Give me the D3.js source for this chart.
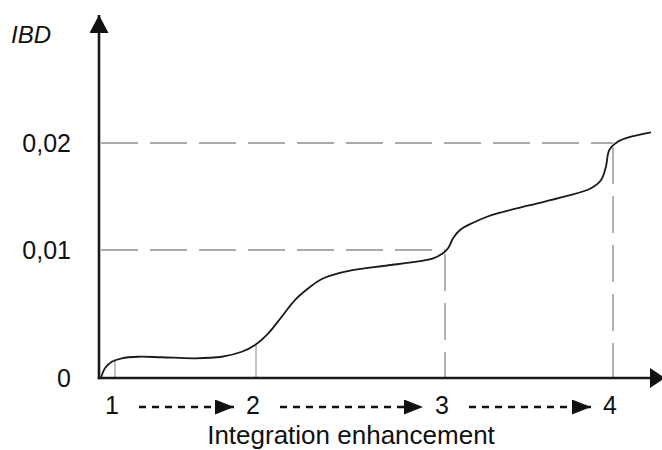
<!doctype html>
<html>
  <head>
    <meta charset="utf-8">
    <title>IBD vs integration enhancement</title>
    <script src="https://cdnjs.cloudflare.com/ajax/libs/d3/7.8.5/d3.min.js"></script>
    <style>
      body { margin: 0; background: #fff; }
      text { font-family: "Liberation Sans", Arial, sans-serif; fill: #111; }
    </style>
  </head>
  <body>
    <div id="chart"></div>

    <script>
      // integration level (x) and IBD value (y)
      const levels = [0.90, 0.93, 0.977, 1.048, 1.165, 1.331, 1.567, 1.757, 1.899, 1.993,
                      2.065, 2.136, 2.206, 2.277, 2.339, 2.407, 2.497, 2.672, 2.850, 2.937, 2.989,
                      3.018, 3.048, 3.089, 3.167, 3.250, 3.327, 3.512, 3.710, 3.869, 3.929,
                      3.958, 3.978, 4.028, 4.107, 4.226];
      const ibd = [0, 0.00078, 0.00127, 0.00154, 0.00166, 0.00162, 0.00154, 0.00166, 0.00205, 0.00258,
                   0.00349, 0.00479, 0.00609, 0.00701, 0.00766, 0.00805, 0.00838, 0.00875, 0.00909, 0.00935, 0.00974,
                   0.01016, 0.01109, 0.01187, 0.01255, 0.01311, 0.01349, 0.01421, 0.01498, 0.01577, 0.01654,
                   0.01779, 0.01935, 0.02012, 0.02059, 0.02100];

      // stage ticks on the x axis and the curve value where each drop line starts
      const stages = [1, 2, 3, 4];
      const stageValues = [0.0014, 0.0026, 0.01, 0.02];

      // y tick labels
      const yTicks = [0, 0.01, 0.02];
      const yTickLabels = ['0', '0,01', '0,02'];

      const width = 662, height = 450;

      // the drawing is schematic, so both scales are piecewise
      const x = d3.scaleLinear().domain(stages).range([115, 256, 445, 613]);
      const y = d3.scaleLinear().domain(yTicks).range([378, 250, 143]);
      const x0 = 99, y0 = y(0);

      const svg = d3.select('#chart')
        .append('svg')
        .attr('width', width)
        .attr('height', height);

      // arrow heads: id, length, breadth
      const heads = [['head', 19, 15], ['yhead', 18, 19], ['xhead', 15, 20]];
      svg.append('defs')
        .selectAll('marker')
        .data(heads)
        .join('marker')
        .attr('id', d => d[0])
        .attr('viewBox', d => `0 0 ${d[1]} ${d[2]}`)
        .attr('refX', d => d[1]).attr('refY', d => d[2] / 2)
        .attr('markerUnits', 'userSpaceOnUse')
        .attr('markerWidth', d => d[1]).attr('markerHeight', d => d[2])
        .attr('orient', 'auto')
        .append('path')
        .attr('d', d => `M0,0L${d[1]},${d[2] / 2}L0,${d[2]}Z`)
        .attr('fill', '#111');

      // dashed guides at stages 3 and 4
      const guideIdx = [2, 3];
      const guides = svg.append('g')
        .attr('stroke', '#aaa')
        .attr('stroke-width', 1.8)
        .attr('stroke-dasharray', '37,12')
        .attr('fill', 'none');
      guides.selectAll('.h')
        .data(guideIdx)
        .join('line')
        .attr('x1', x0 + 2)
        .attr('x2', i => x(stages[i]))
        .attr('y1', i => y(stageValues[i]))
        .attr('y2', i => y(stageValues[i]));
      guides.selectAll('.v')
        .data(guideIdx)
        .join('line')
        .attr('x1', i => x(stages[i]))
        .attr('x2', i => x(stages[i]))
        .attr('y1', i => y(stageValues[i]) + 4)
        .attr('y2', y0);

      // thin drop lines at stages 1 and 2
      svg.append('g')
        .selectAll('line')
        .data([0, 1])
        .join('line')
        .attr('x1', i => x(stages[i]))
        .attr('x2', i => x(stages[i]))
        .attr('y1', i => y(stageValues[i]))
        .attr('y2', y0)
        .attr('stroke', '#999')
        .attr('stroke-width', 1.2);

      // the curve
      const line = d3.line()
        .x(d => x(d[0]))
        .y(d => y(d[1]))
        .curve(d3.curveCatmullRom.alpha(0.5));

      svg.append('path')
        .datum(d3.zip(levels, ibd))
        .attr('d', line)
        .attr('fill', 'none')
        .attr('stroke', '#1a1a1a')
        .attr('stroke-width', 1.8);

      // axes with arrow heads
      svg.append('line')
        .attr('x1', x0).attr('y1', y0 + 1.2)
        .attr('x2', x0).attr('y2', 15)
        .attr('stroke', '#1a1a1a')
        .attr('stroke-width', 2.6)
        .attr('marker-end', 'url(#yhead)');
      svg.append('line')
        .attr('x1', x0 - 1.2).attr('y1', y0)
        .attr('x2', 665).attr('y2', y0)
        .attr('stroke', '#1a1a1a')
        .attr('stroke-width', 2.6)
        .attr('marker-end', 'url(#xhead)');

      // y tick labels
      svg.append('g')
        .selectAll('text')
        .data(yTicks)
        .join('text')
        .attr('x', 71)
        .attr('y', d => y(d))
        .attr('dy', '0.35em')
        .attr('text-anchor', 'end')
        .style('font-size', '25px')
        .text((d, i) => yTickLabels[i]);

      svg.append('text')
        .attr('x', 11)
        .attr('y', 43)
        .style('font-size', '24px')
        .style('font-style', 'italic')
        .text('IBD');

      // stage labels and dashed arrows between them
      svg.append('g')
        .selectAll('text')
        .data(stages)
        .join('text')
        .attr('x', d => x(d) - 3)
        .attr('y', 414)
        .attr('text-anchor', 'middle')
        .style('font-size', '25px')
        .text(d => d);

      svg.append('g')
        .selectAll('line')
        .data(d3.pairs(stages))
        .join('line')
        .attr('x1', d => x(d[0]) + 24)
        .attr('x2', d => x(d[1]) - 22)
        .attr('y1', 407)
        .attr('y2', 407)
        .attr('stroke', '#111')
        .attr('stroke-width', 2.6)
        .attr('stroke-dasharray', '7,6')
        .attr('marker-end', 'url(#head)');

      svg.append('text')
        .attr('x', 351)
        .attr('y', 444)
        .attr('text-anchor', 'middle')
        .style('font-size', '26px')
        .text('Integration enhancement');
    </script>
  </body>
</html>
